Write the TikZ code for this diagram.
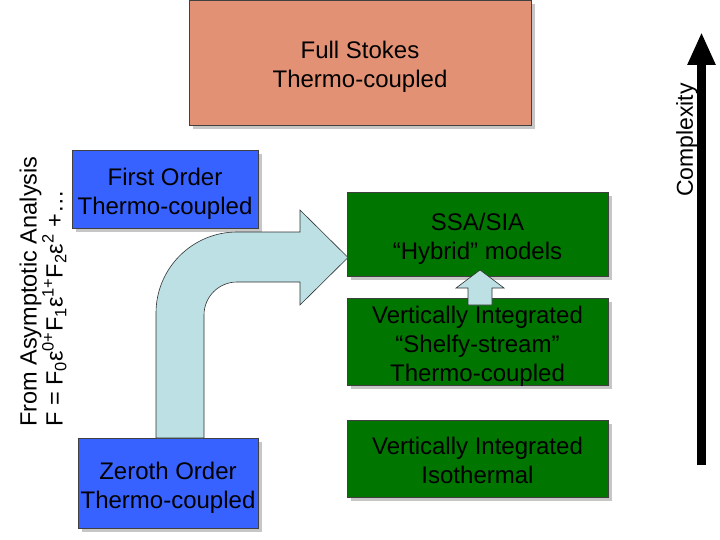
\documentclass[tikz,border=0pt]{standalone}
\usepackage{fontspec}
\setmainfont{Liberation Sans}
\usetikzlibrary{shadows,arrows.meta}
\definecolor{stokesred}{RGB}{227,145,117}
\definecolor{orderblue}{RGB}{56,98,255}
\definecolor{vigreen}{RGB}{0,118,0}
\definecolor{arrowcyan}{RGB}{188,224,228}
% box text, set a little below the centre
\newcommand{\modeltext}[1]{\raisebox{-5pt}[\height][\depth]{\begin{tabular}{@{}c@{}}#1\end{tabular}}}
\begin{document}
\begin{tikzpicture}[x=1pt,y=-1pt]
    \tikzset{block/.style={rectangle, draw=black!75, line width=0.8pt, inner sep=0pt, font=\fontsize{24}{29}\selectfont, drop shadow={shadow xshift=4pt, shadow yshift=-4pt, opacity=0.45}},
        fatarrow/.style={fill=arrowcyan, draw=black!80, line width=0.6pt}};
    \useasboundingbox (0,0) rectangle (720,540);
    % model boxes
    \node[block, fill=stokesred, minimum width=342pt, minimum height=125pt] (stokes) at (360,62.5) {\modeltext{Full Stokes\\Thermo-coupled}};
    \node[block, fill=orderblue, minimum width=186pt, minimum height=78pt] (first) at (165,189) {\modeltext{First Order\\Thermo-coupled}};
    \node[block, fill=orderblue, minimum width=180pt, minimum height=90pt] (zeroth) at (168,483) {\modeltext{Zeroth Order\\Thermo-coupled}};
    \node[block, fill=vigreen, minimum width=261pt, minimum height=84pt] (ssa) at (477.5,234) {\modeltext{SSA/SIA\\“Hybrid” models}};
    \node[block, fill=vigreen, minimum width=261pt, minimum height=83pt] (shelfy) at (477.5,341.5) {\modeltext{Vertically Integrated\\“Shelfy-stream”\\Thermo-coupled}};
    \node[block, fill=vigreen, minimum width=261pt, minimum height=77pt] (iso) at (477.5,458.5) {\modeltext{Vertically Integrated\\Isothermal}};
    % block arrows
    \draw[fatarrow] (156,438) -- (156,313) .. controls (156,268.3) and (192.3,232) .. (237,232) -- (300,232) -- (300,210) -- (348,257.5) -- (300,305) -- (300,282) -- (237,282) .. controls (218.8,282) and (204,296.8) .. (204,315) -- (204,438) -- cycle;
    \draw[fatarrow] (468,305) -- (468,288) -- (456,288) -- (480,270) -- (504,288) -- (492,288) -- (492,305) -- cycle;
    % complexity axis
    \coordinate (cbot) at (701.5,465);
    \coordinate (ctop) at (701.5,32);
    \draw[line width=9pt, -{Triangle[width=26pt,length=33pt]}] (cbot) -- (ctop);
    \node[rotate=90, inner sep=0pt, font=\fontsize{23}{26}\selectfont] (cplx) at (687,140) {Complexity};
    \node[rotate=90, anchor=west, align=left, inner sep=0pt, font=\fontsize{23.5}{26}\selectfont] (asym) at (43,427) {From Asymptotic Analysis\\F = F\textsubscript{0}ε\textsuperscript{0+}F\textsubscript{1}ε\textsuperscript{1+}F\textsubscript{2}ε\textsuperscript{2} +…};
\end{tikzpicture}
\end{document}
